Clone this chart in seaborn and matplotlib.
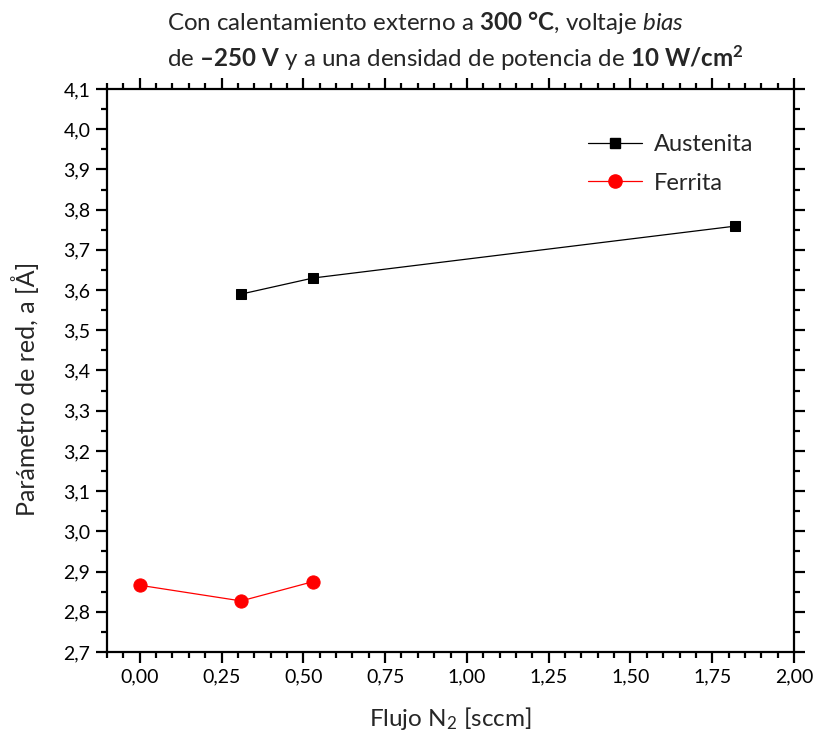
import matplotlib
matplotlib.use("Agg")
import matplotlib.pyplot as plt
import seaborn as sns
import pandas as pd
from matplotlib.ticker import MultipleLocator, FuncFormatter
from matplotlib.lines import Line2D

# Data
aust_x = [0.31, 0.53, 1.82]
aust_y = [3.590, 3.630, 3.759]
ferr_x = [0.00, 0.31, 0.53]
ferr_y = [2.866, 2.827, 2.875]
series_names = ["Austenita", "Ferrita"]

sns.set_style("ticks")
plt.rcParams['font.family'] = ['Lato', 'DejaVu Sans']
plt.rcParams['mathtext.fontset'] = 'custom'
plt.rcParams['mathtext.rm'] = 'Lato'
plt.rcParams['mathtext.it'] = 'Lato:italic'
plt.rcParams['mathtext.bf'] = 'Lato:bold'

fig = plt.figure(figsize=(8.16, 7.38), dpi=100)
ax = fig.add_axes([107/816, 1-652/738, (794-107)/816, (652-89)/738])

df_a = pd.DataFrame({"x": aust_x, "y": aust_y})
df_f = pd.DataFrame({"x": ferr_x, "y": ferr_y})
sns.lineplot(data=df_a, x="x", y="y", ax=ax, color="black", lw=0.9,
             marker="s", markersize=7.5, markeredgecolor="black")
sns.lineplot(data=df_f, x="x", y="y", ax=ax, color="#ff0000", lw=0.9,
             marker="o", markersize=9.5, markeredgecolor="#ff0000")

ax.set_xlim(-0.1, 2.0)
ax.set_ylim(2.7, 4.1)
ax.xaxis.set_major_locator(MultipleLocator(0.25))
ax.xaxis.set_minor_locator(MultipleLocator(0.05))
ax.yaxis.set_major_locator(MultipleLocator(0.1))
ax.yaxis.set_minor_locator(MultipleLocator(0.05))
ax.xaxis.set_major_formatter(FuncFormatter(lambda v, p: f"{v:.2f}".replace(".", ",")))
ax.yaxis.set_major_formatter(FuncFormatter(lambda v, p: f"{v:.1f}".replace(".", ",")))

for s in ax.spines.values():
    s.set_linewidth(1.6)
    s.set_color("black")
ax.tick_params(which="both", direction="out", top=True, right=True,
               labeltop=False, labelright=False, width=1.6, colors="black")
ax.tick_params(which="major", length=8, labelsize=14, pad=4)
ax.tick_params(which="minor", length=4.5)

ax.set_xlabel(r"Flujo N$_2$ [sccm]", fontsize=17.5, labelpad=14)
ax.set_ylabel("Parámetro de red, a [Å]", fontsize=18)
ax.yaxis.set_label_coords(-0.099, 0.468)

handles = [Line2D([], [], color="black", lw=0.9, marker="s", markersize=7.5),
           Line2D([], [], color="#ff0000", lw=0.9, marker="o", markersize=9.5)]
ax.legend(handles, series_names, loc="upper right", bbox_to_anchor=(0.972, 0.958),
          frameon=False, fontsize=17, handlelength=2.3, handletextpad=0.5,
          labelspacing=0.75)

fig.text(167/816, 1-30/738,
         r"Con calentamiento externo a $\mathbf{300\ °C}$, voltaje $\mathit{bias}$",
         fontsize=17.4, ha="left", va="baseline")
fig.text(167/816, 1-67/738,
         r"de $\mathbf{–250\ V}$ y a una densidad de potencia de $\mathbf{10\ W/cm^2}$",
         fontsize=17.4, ha="left", va="baseline")

fig.savefig("out.png", dpi=100)
